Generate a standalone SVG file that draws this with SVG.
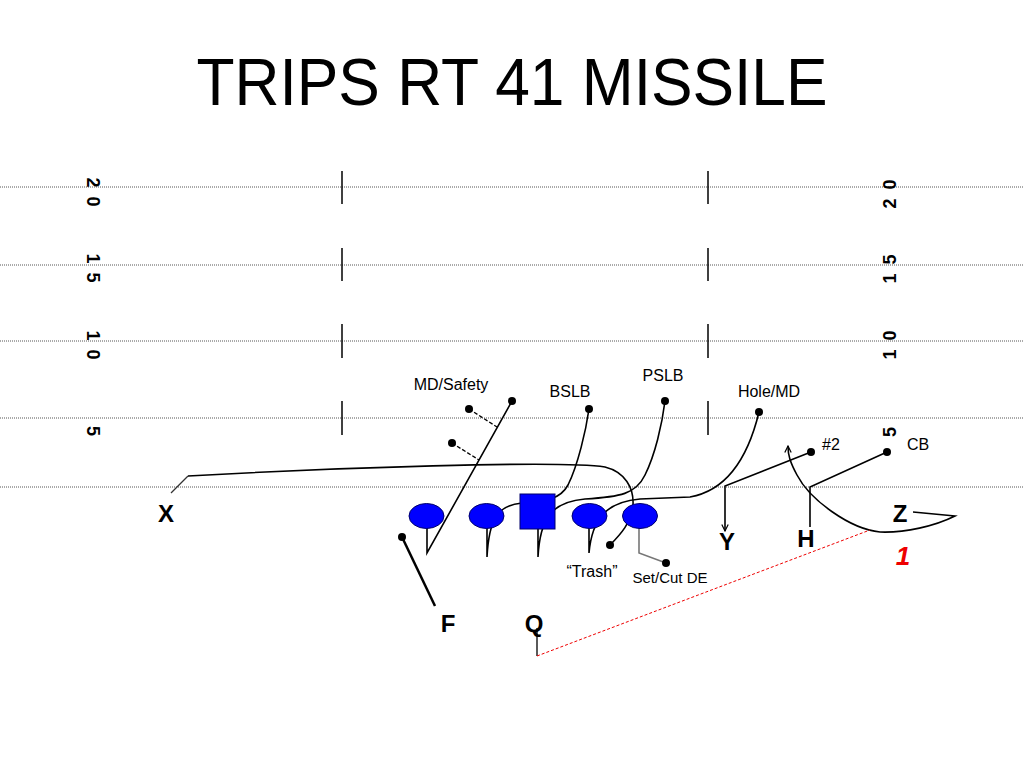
<svg xmlns="http://www.w3.org/2000/svg" width="1024" height="768" viewBox="0 0 1024 768">
<defs>
<style>
.yard{stroke:#555;stroke-width:1;stroke-dasharray:1,1;fill:none}
.hash{stroke:#000;stroke-width:1.5}
.num{font-family:"Liberation Sans",Arial,sans-serif;font-weight:bold;font-size:18px;fill:#000;letter-spacing:2px}
.rt{stroke:#000;stroke-width:1.6;fill:none}
.dash{stroke:#000;stroke-width:1.3;stroke-dasharray:4,2;fill:none}
.lab{font-family:"Liberation Sans",Arial,sans-serif;font-size:16px;fill:#000;text-anchor:middle}
.big{font-family:"Liberation Sans",Arial,sans-serif;font-size:24px;font-weight:bold;fill:#000;text-anchor:middle}
.ol{fill:#0000ff;stroke:#00006a;stroke-width:1}
.dot{fill:#000}
</style>
<marker id="arr" viewBox="0 0 10 10" refX="9" refY="5" markerWidth="8" markerHeight="8" orient="auto" markerUnits="userSpaceOnUse">
<path d="M1,1 L9,5 L1,9" fill="none" stroke="#000" stroke-width="1.5"/>
</marker>
</defs>
<rect width="1024" height="768" fill="#fff"/>
<text x="512" y="105" font-family="'Liberation Sans',Arial,sans-serif" font-size="67" text-anchor="middle" textLength="631" lengthAdjust="spacingAndGlyphs">TRIPS RT 41 MISSILE</text>
<g id="field">
<line class="yard" x1="0" y1="187" x2="1024" y2="187"/>
<line class="yard" x1="0" y1="265" x2="1024" y2="265"/>
<line class="yard" x1="0" y1="341" x2="1024" y2="341"/>
<line class="yard" x1="0" y1="418" x2="1024" y2="418"/>
<line class="yard" x1="0" y1="487" x2="1024" y2="487"/>
<line class="hash" x1="342" y1="171" x2="342" y2="204"/>
<line class="hash" x1="342" y1="248" x2="342" y2="281"/>
<line class="hash" x1="342" y1="324" x2="342" y2="358"/>
<line class="hash" x1="342" y1="401" x2="342" y2="435"/>
<line class="hash" x1="708" y1="171" x2="708" y2="204"/>
<line class="hash" x1="708" y1="248" x2="708" y2="281"/>
<line class="hash" x1="708" y1="324" x2="708" y2="358"/>
<line class="hash" x1="708" y1="401" x2="708" y2="435"/>
<text class="num" transform="translate(87,193) rotate(90)" text-anchor="middle">2 0</text>
<text class="num" transform="translate(87,269) rotate(90)" text-anchor="middle">1 5</text>
<text class="num" transform="translate(87,346) rotate(90)" text-anchor="middle">1 0</text>
<text class="num" transform="translate(87,432) rotate(90)" text-anchor="middle">5</text>
<text class="num" transform="translate(896,193) rotate(-90)" text-anchor="middle">2 0</text>
<text class="num" transform="translate(896,268) rotate(-90)" text-anchor="middle">1 5</text>
<text class="num" transform="translate(896,344) rotate(-90)" text-anchor="middle">1 0</text>
<text class="num" transform="translate(896,431) rotate(-90)" text-anchor="middle">5</text>
</g>
<g id="connectors">
<path class="rt" d="M427,528 L427,553 L512,401"/>
<line class="dash" x1="469" y1="409" x2="497" y2="427"/>
<line class="dash" x1="452" y1="443" x2="479" y2="460"/>
<path class="rt" d="M487,528 L487,557 C489,520 497,505 522,503 C545,501 560,500 568,485 C578,465 586,430 589,409"/>
<path class="rt" d="M538,529 L538,557 C540,520 550,502 585,499 C620,497 636,494 645,475 C655,455 662,425 665,401"/>
<path class="rt" d="M589,528 L589,553 C592,520 605,502 640,499 L690,497 C718,492 745,470 759,412"/>
<path d="M639,528 L639,553 L666,563" fill="none" stroke="#777" stroke-width="1.6"/>
<path d="M171,493 L188,476" fill="none" stroke="#333" stroke-width="1.2"/>
<path class="rt" d="M188,476 C330,468 560,460 605,467 C625,472 634,488 633,505 C632,522 620,535 610,545"/>
<line x1="402" y1="537" x2="435" y2="606" stroke="#000" stroke-width="2.5"/>
<path class="rt" d="M811,452 L725,486 L725,531" marker-end="url(#arr)"/>
<path class="rt" d="M887,452 L810,487 L810,527"/>
<path class="rt" d="M913,512 L955,516 C935,526 905,533 880,532 C850,529 810,500 797,475 C790,462 788,455 788,446" marker-end="url(#arr)"/>
<path d="M537,628 L537,656" fill="none" stroke="#000" stroke-width="1.3"/>
<path d="M537,656 L870,530" fill="none" stroke="#e00" stroke-width="1" stroke-dasharray="3,2"/>
</g>
<g id="dots">
<circle class="dot" cx="512" cy="401" r="4"/>
<circle class="dot" cx="469" cy="409" r="4"/>
<circle class="dot" cx="452" cy="443" r="4"/>
<circle class="dot" cx="589" cy="409" r="4"/>
<circle class="dot" cx="665" cy="401" r="4"/>
<circle class="dot" cx="759" cy="412" r="4"/>
<circle class="dot" cx="811" cy="452" r="4"/>
<circle class="dot" cx="887" cy="452" r="4"/>
<circle class="dot" cx="610" cy="545" r="4"/>
<circle class="dot" cx="666" cy="563" r="4"/>
<circle class="dot" cx="402" cy="537" r="4"/>
</g>
<g id="lt"><ellipse class="ol" cx="426.5" cy="516" rx="17.5" ry="12.5"/></g>
<g id="lg"><ellipse class="ol" cx="486.5" cy="516" rx="17.5" ry="12.5"/></g>
<g id="c"><rect class="ol" x="520" y="494" width="35" height="35"/></g>
<g id="rg"><ellipse class="ol" cx="589.5" cy="516" rx="17.5" ry="12.5"/></g>
<g id="rtk"><ellipse class="ol" cx="640" cy="516" rx="17.5" ry="12.5"/></g>
<g id="labels">
<text class="lab" x="451" y="390">MD/Safety</text>
<text class="lab" x="570" y="397">BSLB</text>
<text class="lab" x="663" y="381">PSLB</text>
<text class="lab" x="769" y="397">Hole/MD</text>
<text class="lab" x="831" y="450">#2</text>
<text class="lab" x="918" y="450">CB</text>
<text class="lab" x="592" y="577">“Trash”</text>
<text class="lab" x="670" y="583" style="font-size:15px">Set/Cut DE</text>
</g>
<g id="x"><text class="big" x="166" y="522">X</text></g>
<g id="f"><text class="big" x="448" y="632">F</text></g>
<g id="q"><text class="big" x="534" y="632">Q</text></g>
<g id="y"><text class="big" x="727" y="550">Y</text></g>
<g id="h"><text class="big" x="806" y="547">H</text></g>
<g id="z"><text class="big" x="900" y="522">Z</text></g>
<g id="one"><text x="903" y="565" font-family="'Liberation Sans',Arial,sans-serif" font-size="26" font-weight="bold" font-style="italic" fill="#e00" text-anchor="middle">1</text></g>
</svg>
